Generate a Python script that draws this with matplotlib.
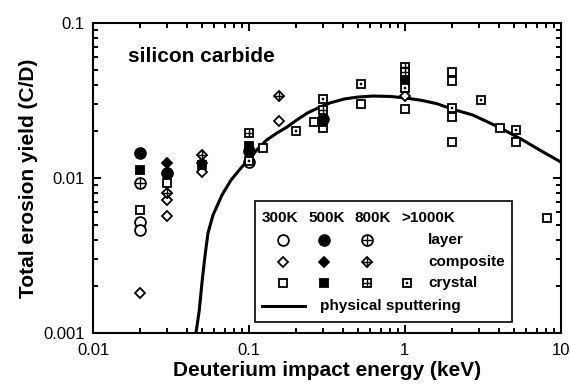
import numpy as np
import matplotlib
matplotlib.use("Agg")
import matplotlib.pyplot as plt
from matplotlib.ticker import LogLocator, FuncFormatter, NullFormatter

plt.rcParams['font.family'] = ['Liberation Sans', 'DejaVu Sans']

# ================= DATA =================
# energies in keV, yields in C/D
layer_300K_x = [0.02, 0.02, 0.1]
layer_300K_y = [0.0052, 0.0046, 0.0127]
layer_500K_x = [0.02, 0.03, 0.1, 0.3]
layer_500K_y = [0.0145, 0.0108, 0.0150, 0.0240]
layer_800K_x = [0.02]
layer_800K_y = [0.0093]

composite_300K_x = [0.02, 0.03, 0.03, 0.05, 0.155, 1.0]
composite_300K_y = [0.0018, 0.0072, 0.0057, 0.0109, 0.0235, 0.0340]
composite_500K_x = [0.03, 0.05]
composite_500K_y = [0.0125, 0.0125]
composite_800K_x = [0.03, 0.05, 0.155]
composite_800K_y = [0.0080, 0.0140, 0.0340]

crystal_300K_x = [0.02, 0.03, 0.123, 0.26, 0.3, 0.52, 1.0, 1.0,
                  2.0, 2.0, 2.0, 2.0, 4.1, 5.2, 8.2]
crystal_300K_y = [0.0062, 0.0093, 0.0156, 0.0230, 0.0210, 0.0300, 0.0450, 0.0280,
                  0.0480, 0.0420, 0.0248, 0.0170, 0.0210, 0.0170, 0.0055]
crystal_500K_x = [0.02, 0.05, 0.1, 0.3, 1.0]
crystal_500K_y = [0.0113, 0.0121, 0.0160, 0.0230, 0.0420]
crystal_800K_x = [0.1, 0.3, 1.0, 1.0]
crystal_800K_y = [0.0195, 0.0275, 0.0520, 0.0480]
crystal_1000K_x = [0.1, 0.2, 0.3, 0.52, 1.0, 2.0, 3.1, 5.2]
crystal_1000K_y = [0.0128, 0.0201, 0.0324, 0.0404, 0.0380, 0.0283, 0.0319, 0.0204]

# physical sputtering curve
sputter_x = [0.0457, 0.048, 0.050, 0.0523, 0.0546, 0.0588, 0.0671, 0.0767, 0.0875,
             0.100, 0.114, 0.130, 0.151, 0.175, 0.203, 0.236, 0.277, 0.33, 0.412,
             0.50, 0.62, 0.80, 1.0, 1.28, 1.6, 2.0, 2.73, 4.0, 5.7, 7.55, 10.0]
sputter_y = [0.0010, 0.0014, 0.00213, 0.00318, 0.00442, 0.00577, 0.00776, 0.0097, 0.0114,
             0.0133, 0.0154, 0.0176, 0.0195, 0.0213, 0.0237, 0.0262, 0.0283, 0.0305, 0.0324,
             0.0333, 0.0338, 0.0336, 0.0329, 0.0317, 0.0302, 0.0279, 0.0255, 0.0213, 0.0176,
             0.0149, 0.0127]

temps = ['300K', '500K', '800K', '>1000K']
row_labels = ['layer', 'composite', 'crystal']
# ================================================================

DPI = 100
fig = plt.figure(figsize=(5.71, 3.90), dpi=DPI)
ax = fig.add_axes([0.163, 0.146, 0.819, 0.795])

MS_C, MS_D, MS_S = 7.8, 5.6, 6.2
MEW = 1.3


def draw(x, y, marker, ms, filled=False, inner=None, inner_ms=None):
    ax.plot(x, y, ls='none', marker=marker, ms=ms, mec='black',
            mfc='black' if filled else 'white', mew=MEW, zorder=3)
    if inner == '+':
        ax.plot(x, y, ls='none', marker='+', ms=inner_ms or ms, mec='black',
                mew=1.0, zorder=4)
    elif inner == '.':
        ax.plot(x, y, ls='none', marker='s', ms=1.6, mec='black', mfc='black',
                mew=0.3, zorder=4)


ax.plot(sputter_x, sputter_y, color='black', lw=2.2, zorder=2)

draw(layer_300K_x, layer_300K_y, 'o', MS_C)
draw(layer_500K_x, layer_500K_y, 'o', MS_C, filled=True)
draw(layer_800K_x, layer_800K_y, 'o', MS_C, inner='+', inner_ms=MS_C)
draw(composite_300K_x, composite_300K_y, 'D', MS_D)
draw(composite_500K_x, composite_500K_y, 'D', MS_D, filled=True)
draw(composite_800K_x, composite_800K_y, 'D', MS_D, inner='+', inner_ms=MS_D * 1.3)
draw(crystal_300K_x, crystal_300K_y, 's', MS_S)
draw(crystal_500K_x, crystal_500K_y, 's', MS_S, filled=True)
draw(crystal_800K_x, crystal_800K_y, 's', MS_S, inner='+', inner_ms=MS_S)
draw(crystal_1000K_x, crystal_1000K_y, 's', MS_S, inner='.')

ax.set_xscale('log')
ax.set_yscale('log')
ax.set_xlim(0.01, 10)
ax.set_ylim(0.001, 0.1)

fmt = FuncFormatter(lambda v, p: '%g' % v)
ax.xaxis.set_major_formatter(fmt)
ax.yaxis.set_major_formatter(fmt)
ax.xaxis.set_minor_formatter(NullFormatter())
ax.yaxis.set_minor_formatter(NullFormatter())
ax.xaxis.set_minor_locator(LogLocator(base=10, subs=np.arange(2, 10)))
ax.yaxis.set_minor_locator(LogLocator(base=10, subs=np.arange(2, 10)))
ax.tick_params(which='both', direction='in', top=True, right=True, width=1.4,
               labelsize=12)
ax.tick_params(which='major', length=6)
ax.tick_params(which='minor', length=3.5)
ax.tick_params(axis='x', pad=7)
ax.tick_params(axis='y', pad=6)
for s in ax.spines.values():
    s.set_linewidth(1.5)

ax.set_xlabel('Deuterium impact energy (keV)', fontsize=15, fontweight='bold', labelpad=2)
ax.set_ylabel('Total erosion yield (C/D)', fontsize=15, fontweight='bold', labelpad=4)

ax.text(0.075, 0.893, 'silicon carbide', transform=ax.transAxes, fontsize=15,
        fontweight='bold', va='center', ha='left')

# hand-made legend table
T = ax.transAxes
ax.add_patch(plt.Rectangle((0.346, 0.035), 0.549, 0.391, transform=T, fill=True,
                           fc='white', ec='black', lw=1.2, zorder=5))
col_x = [0.406, 0.494, 0.585, 0.671]
head_x = [0.400, 0.500, 0.598, 0.716]
row_y = [0.300, 0.229, 0.161]
LFS = 11
for hx, t in zip(head_x, temps):
    ax.text(hx, 0.371, t, transform=T, ha='center', va='center', fontsize=LFS,
            fontweight='bold', zorder=6)
for ry, lab in zip(row_y, row_labels):
    ax.text(0.716, ry, lab, transform=T, ha='left', va='center', fontsize=LFS,
            fontweight='bold', zorder=6)


def leg(i, j, marker, ms, filled=False, inner=None, inner_ms=None):
    x, y = [col_x[i]], [row_y[j]]
    ax.plot(x, y, ls='none', marker=marker, ms=ms, mec='black',
            mfc='black' if filled else 'white', mew=MEW, transform=T, zorder=7, clip_on=False)
    if inner == '+':
        ax.plot(x, y, ls='none', marker='+', ms=inner_ms or ms, mec='black', mew=1.0,
                transform=T, zorder=8, clip_on=False)
    elif inner == '.':
        ax.plot(x, y, ls='none', marker='s', ms=1.6, mec='black', mfc='black', mew=0.3,
                transform=T, zorder=8, clip_on=False)


leg(0, 0, 'o', MS_C)
leg(1, 0, 'o', MS_C, filled=True)
leg(2, 0, 'o', MS_C, inner='+', inner_ms=MS_C)
leg(0, 1, 'D', MS_D)
leg(1, 1, 'D', MS_D, filled=True)
leg(2, 1, 'D', MS_D, inner='+', inner_ms=MS_D * 1.3)
leg(0, 2, 's', MS_S)
leg(1, 2, 's', MS_S, filled=True)
leg(2, 2, 's', MS_S, inner='+', inner_ms=MS_S)
leg(3, 2, 's', MS_S, inner='.')

ax.plot([0.361, 0.453], [0.087, 0.087], color='black', lw=2.2, transform=T, zorder=7)
ax.text(0.485, 0.087, 'physical sputtering', transform=T, ha='left', va='center',
        fontsize=LFS, fontweight='bold', zorder=7)

fig.savefig('out.png', dpi=DPI)
